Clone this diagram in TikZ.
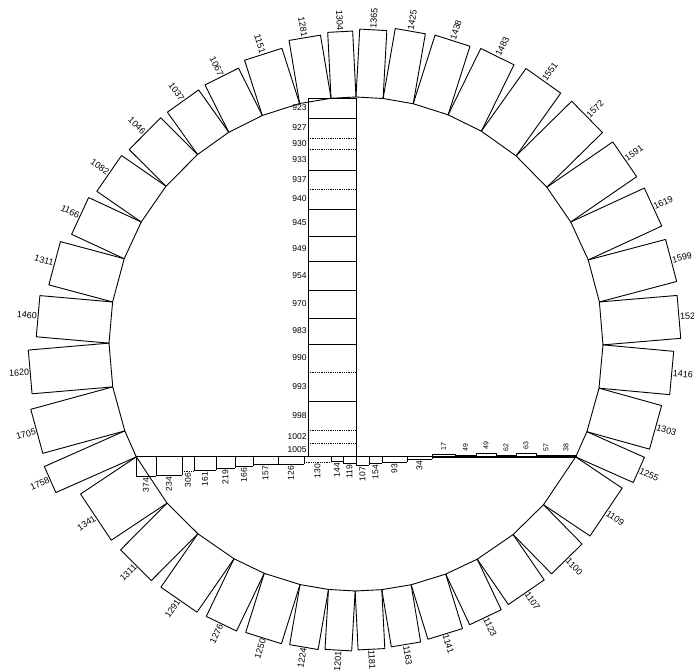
\documentclass[tikz,border=0pt]{standalone}
\usepackage{fontspec}
\setmainfont{Liberation Sans}
\usetikzlibrary{calc}
\tikzset{
	tab/.style={draw=black, line width=0.9pt, line join=round},
	bar/.style={draw=black, line width=0.8pt},
	dotbar/.style={draw=black, line width=0.8pt, densely dotted},
	tablbl/.style={font=\fontsize{9}{10}\selectfont, inner sep=1pt},
	collbl/.style={font=\fontsize{8.5}{10}\selectfont, inner sep=1.2pt, anchor=east},
	botlbl/.style={font=\fontsize{8.5}{10}\selectfont, inner sep=1pt, anchor=east, rotate=90},
	toplbl/.style={font=\fontsize{7}{8}\selectfont, inner sep=1pt, anchor=west, rotate=90},
}
\begin{document}
\begin{tikzpicture}[x=1pt,y=1pt]
	\useasboundingbox (-356,-328) rectangle (338,344);
	\def\rad{247}
	% outer tabs: from angle / to angle / depth / label
	\foreach \a/\b/\h/\t [count=\i] in {90/83.7/68/1365, 83.7/76.6/71/1425, 76.6/68.1/72/1438,
		68.1/59.5/74/1483, 59.5/49.6/77/1551, 49.6/39.4/78/1572, 39.4/29.6/80/1591,
		29.6/19.9/81/1619, 19.9/9.8/80/1599, 9.8/-0.2/78/152, -0.2/-10.3/71/1416,
		-10.3/-20.8/65/1303, -20.8/-27.2/63/1255, -27.2/-40.6/56/1109, -40.6/-50.5/55/1100,
		-50.5/-60.6/55/1107, -60.6/-68.7/56/1123, -68.7/-77.1/57/1141, -77.1/-84/58/1163,
		-84/-90.2/59/1181, -90.2/-96.4/60/1201, -96.4/-103.1/61/1224, -103.1/-111.8/62/1250,
		-111.8/-119.6/64/1276, -119.6/-129.8/65/1291, -129.8/-139.9/66/1311, -139.9/-152.8/67/1341,
		-152.8/-159.4/88/1758, -159.4/-170/85/1705, -170/-180.2/81/1620, -180.2/-189.8/73/1460,
		-189.8/-200.2/66/1311, -200.2/-209.6/58/1166, -209.6/-219.7/54/1082, -219.7/-230.1/52/1046,
		-230.1/-239/52/1037, -239/-247.7/53/1067, -247.7/-256.8/58/1151, -256.8/-264.2/64/1281,
		-264.2/-270/66/1304}{
		\pgfmathsetmacro\m{(\a+\b)/2}
		\pgfmathsetmacro\d{\rad*cos((\a-\b)/2)+\h}
		\draw[tab] (\a:\rad) -- ($(\a:\rad)+(\m:\h)$) -- ($(\b:\rad)+(\m:\h)$) -- (\b:\rad) -- cycle;
		\ifdim\m pt>-90pt
			\node[tablbl, rotate=\m, anchor=west] (t\i) at (\m:\d) {\t};
		\else
			\node[tablbl, rotate=\m+180, anchor=east] (t\i) at (\m:\d) {\t};
		\fi
	}
	\coordinate (top) at (90:246);
	\coordinate (hl) at (-152.8:\rad);
	\coordinate (hr) at (-27.2:\rad);
	\draw[bar] (hl) -- (hr);
	\draw[bar] (top) -- (top |- hl);
	% vertical column
	\draw[bar] (-48,246) -- (0,246);
	\draw[bar] (-48,246) -- (-48,-113);
	\foreach \y in {226,174,135,108,83,54,26,0,-57}
		\draw[bar] (-48,\y) -- (0,\y);
	\foreach \y in {206,195,155,-28,-86,-99}
		\draw[dotbar] (-48,\y) -- (0,\y);
	\foreach \ya/\yb/\t [count=\i] in {246/226/923, 226/206/927, 206/195/930, 195/174/933,
		174/155/937, 155/135/940, 135/108/945, 108/83/949, 83/54/954, 54/26/970, 26/0/983,
		0/-28/990, -28/-57/993, -57/-86/998, -86/-99/1002, -99/-113/1005}
		\node[collbl] (c\i) at (-48,{(\ya+\yb)/2}) {\t};
	% row below the chord
	\foreach \xa/\xb/\dd/\t/\s [count=\i] in {-220/-200/19/374/bar, -200/-174/18/234/bar,
		-174/-162/14/306/dotbar, -162/-140/13/161/bar, -140/-121/11/219/bar, -121/-103/9/166/bar,
		-103/-78/7/157/bar, -78/-52/7/126/bar, -52/-25/5/130/dotbar, -25/-13/4/144/bar,
		-13/0/6/119/bar, 0/13/8/107/bar, 13/26/6/154/bar, 26/51/5/93/bar, 51/76/2/34/bar}{
		\draw[bar] (\xa,-113) -- (\xa,{-113-\dd});
		\draw[bar] (\xb,-113) -- (\xb,{-113-\dd});
		\draw[\s] (\xa,{-113-\dd}) -- (\xb,{-113-\dd});
		\node[botlbl] (b\i) at ({(\xa+\xb)/2},{-114-\dd}) {\t};
	}
	% small bars above the chord
	\foreach \xa/\xb/\dd/\t [count=\i] in {76/99/3/17, 99/120/2/49, 120/140/4/49,
		140/160/2/62, 160/180/4/63, 180/200/2/57, 200/220/2/38}{
		\draw[bar] (\xa,-113) rectangle (\xb,{-113+\dd});
		\node[toplbl] (r\i) at ({(\xa+\xb)/2},{-111+\dd}) {\t};
	}
\end{tikzpicture}
\end{document}
